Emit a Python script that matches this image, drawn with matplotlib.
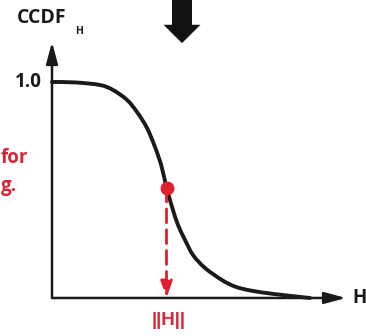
import matplotlib
matplotlib.use("Agg")
import matplotlib.pyplot as plt
from matplotlib.patches import FancyArrow, PathPatch
from matplotlib.path import Path

plt.rcParams['font.family'] = ['Open Sans', 'DejaVu Sans']

# Complementary CDF of the statistic H
h_values = [0.00, 0.23, 0.48, 0.61, 0.75, 0.85, 0.95, 1.03, 1.095, 1.145, 1.165,
            1.21, 1.26, 1.33, 1.41, 1.53, 1.70, 1.83, 1.98, 2.21, 2.48, 2.58]
ccdf_values = [1.000, 0.998, 0.986, 0.963, 0.917, 0.861, 0.787, 0.699, 0.610, 0.509, 0.477,
               0.407, 0.338, 0.269, 0.199, 0.139, 0.083, 0.053, 0.035, 0.019, 0.005, 0.000]

# Observed norm and its CCDF value
h_obs = 1.145
ccdf_obs = 0.509

y_tick_label = "1.0"
y_label_main = "CCDF"
y_label_sub = "H"
x_label = "H"
obs_label = "||H||"
side_lines = ["for", "g."]

RED = "#de1f2f"
TXT_RED = "#d42638"
INK = "#1a1a1a"


def smooth_path(xs, ys):
    """Catmull-Rom curve through the points, as cubic Bezier segments."""
    pts = list(zip(xs, ys))
    verts = [pts[0]]
    codes = [Path.MOVETO]
    n = len(pts)
    for i in range(n - 1):
        p0 = pts[i - 1] if i > 0 else pts[i]
        p1 = pts[i]
        p2 = pts[i + 1]
        p3 = pts[i + 2] if i + 2 < n else pts[i + 1]
        c1 = (p1[0] + (p2[0] - p0[0]) / 6, p1[1] + (p2[1] - p0[1]) / 6)
        c2 = (p2[0] - (p3[0] - p1[0]) / 6, p2[1] - (p3[1] - p1[1]) / 6)
        verts += [c1, c2, p2]
        codes += [Path.CURVE4] * 3
    return Path(verts, codes)


fig = plt.figure(figsize=(3.66, 3.36), dpi=100)
ax = fig.add_axes([0, 0, 1, 1])
ax.set_xlim(-0.52, 3.14)
ax.set_ylim(-0.176, 1.3796)
ax.axis("off")

# Axes with arrowheads
ax.annotate("", xy=(2.94, 0), xytext=(0, 0),
            arrowprops=dict(arrowstyle="-|>,head_length=1.3,head_width=0.35",
                            color=INK, lw=1.8, shrinkA=0, shrinkB=0))
ax.annotate("", xy=(0, 1.185), xytext=(0, 0),
            arrowprops=dict(arrowstyle="-|>,head_length=1.3,head_width=0.35",
                            color=INK, lw=1.8, shrinkA=0, shrinkB=0))

# CCDF curve
ax.add_patch(PathPatch(smooth_path(h_values, ccdf_values), fill=False,
                       edgecolor=INK, lw=2.8, capstyle="round", zorder=3))

# Dashed drop line from the observed point to the H axis
ax.annotate("", xy=(h_obs, 0.0), xytext=(h_obs, ccdf_obs),
            arrowprops=dict(arrowstyle="-|>,head_length=1.0,head_width=0.35",
                            color=RED, lw=2.0, ls=(0, (5, 2.5)),
                            shrinkA=0, shrinkB=0), zorder=4)
ax.plot([h_obs], [ccdf_obs], "o", color=RED, ms=9, zorder=5)

# Big down arrow at the top
ax.add_patch(FancyArrow(1.30, 1.43, 0, -0.25, width=0.20, head_width=0.37,
                        head_length=0.085, length_includes_head=True,
                        color="#111111", lw=0))

# Text
ax.text(-0.10, 1.0, y_tick_label, ha="right", va="center",
        fontsize=13.5, fontweight="bold", color=INK)
ax.text(-0.35, 1.295, y_label_main, ha="left", va="center",
        fontsize=14, fontweight="bold", color=INK)
ax.text(0.235, 1.232, y_label_sub, ha="left", va="center",
        fontsize=7.5, fontweight="bold", color=INK)
ax.text(3.00, 0.0, x_label, ha="left", va="center",
        fontsize=13.5, fontweight="bold", color=INK)
ax.text(h_obs + 0.025, -0.105, obs_label, ha="center", va="center",
        fontsize=13.5, fontweight="bold", color=TXT_RED,
        family=["Liberation Sans", "DejaVu Sans"])
ax.text(-0.515, 0.65, side_lines[0], ha="left", va="center",
        fontsize=13.5, fontweight="bold", color=TXT_RED)
ax.text(-0.515, 0.52, side_lines[1], ha="left", va="center",
        fontsize=13.5, fontweight="bold", color=TXT_RED)

fig.savefig("out.png", dpi=100)
